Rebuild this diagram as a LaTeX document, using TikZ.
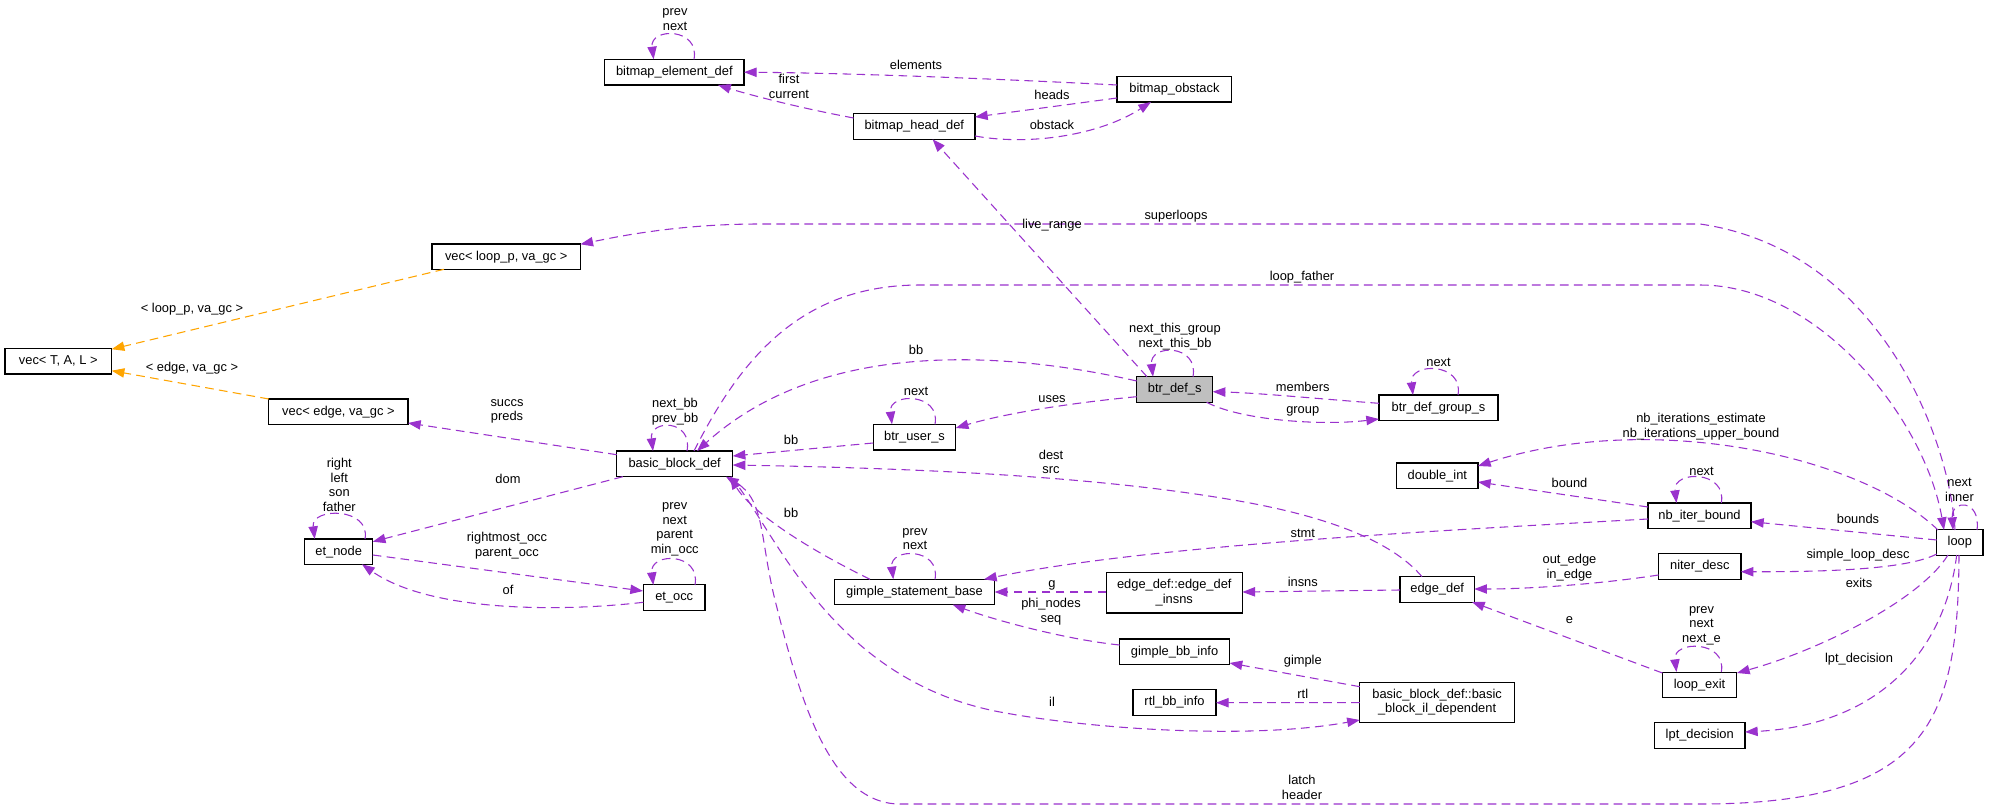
\documentclass[tikz,border=0pt]{standalone}
\usepackage{fontspec}
\setmainfont{Liberation Sans}
\usetikzlibrary{arrows.meta,calc}
\definecolor{dpurple}{HTML}{9A32CD}
\definecolor{dorange}{HTML}{FFA500}
\definecolor{dgrey}{HTML}{BFBFBF}
\newcommand\dxf{\fontsize{9.65pt}{11pt}\selectfont}
\begin{document}
\begin{tikzpicture}[x=0.75pt,y=-0.75pt,
  bx/.style={draw=black, line width=0.9pt, fill=white, font=\dxf, inner sep=0pt, minimum height=19.2pt, align=center},
  lbl/.style={font=\dxf, inner sep=0pt, align=center},
  rel/.style={draw=dpurple, line width=0.8pt, dash pattern=on 6.5pt off 4pt, -{Triangle[length=9.5pt,width=7pt]}},
  inh/.style={draw=dorange, line width=0.8pt, dash pattern=on 6.5pt off 4pt, -{Triangle[length=9.5pt,width=7pt]}}]
\fill[white] (0,0) rectangle (1989,809);
\useasboundingbox (0,0) rectangle (1989,809);

% nodes
\node[bx, minimum width=80pt] (vTAL) at (58.3,361.2) {vec< T, A, L >};
\node[bx, minimum width=111.3pt] (vLoop) at (506.2,256.8) {vec< loop\_p, va\_gc >};
\node[bx, minimum width=104.4pt] (vEdge) at (338.4,411.7) {vec< edge, va\_gc >};
\node[bx, minimum width=104.6pt] (bed) at (674.3,72.2) {bitmap\_element\_def};
\node[bx, minimum width=91pt] (bhd) at (914.3,126.5) {bitmap\_head\_def};
\node[bx, minimum width=86pt] (bob) at (1174.4,89.3) {bitmap\_obstack};
\node[bx, minimum width=57pt, fill=dgrey] (bds) at (1174.7,389.5) {btr\_def\_s};
\node[bx, minimum width=89.3pt] (bdg) at (1438.5,407.8) {btr\_def\_group\_s};
\node[bx, minimum width=62pt] (bus) at (914.5,437.2) {btr\_user\_s};
\node[bx, minimum width=87pt] (bbd) at (674.7,463.8) {basic\_block\_def};
\node[bx, minimum width=51.2pt] (etn) at (338.7,551.7) {et\_node};
\node[bx, minimum width=46.3pt] (eto) at (674.2,597.5) {et\_occ};
\node[bx, minimum width=120.2pt] (gsb) at (914.5,592) {gimple\_statement\_base};
\node[bx, minimum width=102.1pt, minimum height=30.2pt] (edi) at (1174.3,592.8) {edge\_def::edge\_def\\\_insns};
\node[bx, minimum width=82.5pt] (gbi) at (1174.6,651.8) {gimple\_bb\_info};
\node[bx, minimum width=62.3pt] (rbi) at (1174.5,702.5) {rtl\_bb\_info};
\node[bx, minimum width=61pt] (dbl) at (1437.3,475.8) {double\_int};
\node[bx, minimum width=77.3pt] (nib) at (1699.5,515.8) {nb\_iter\_bound};
\node[bx, minimum width=34.7pt] (loop) at (1959.8,542.5) {loop};
\node[bx, minimum width=61.8pt] (nid) at (1699.8,566.5) {niter\_desc};
\node[bx, minimum width=55.7pt] (edf) at (1437.2,589.3) {edge\_def};
\node[bx, minimum width=55.6pt] (lex) at (1699.5,685) {loop\_exit};
\node[bx, minimum width=116pt, minimum height=30pt] (bil) at (1437.1,702.3) {basic\_block\_def::basic\\\_block\_il\_dependent};
\node[bx, minimum width=68pt] (lpt) at (1699.7,735.5) {lpt\_decision};

% self loops
\draw[rel] ($(bed)+(19.7,-12.9)$) .. controls +(6,-32) and +(-4,-32) .. ($(bed)+(-20.7,-12.9)$);
\draw[rel] ($(bds)+(18.3,-12.8)$) .. controls +(6,-33) and +(-4,-33) .. ($(bds)+(-21.7,-12.8)$);
\draw[rel] ($(bdg)+(19.5,-12.8)$) .. controls +(6,-33) and +(-4,-33) .. ($(bdg)+(-25.5,-12.8)$);
\draw[rel] ($(bus)+(20.5,-12.9)$) .. controls +(6,-32) and +(-4,-32) .. ($(bus)+(-22.5,-12.9)$);
\draw[rel] ($(bbd)+(12.3,-12.8)$) .. controls +(6,-32) and +(-4,-32) .. ($(bbd)+(-21.7,-12.8)$);
\draw[rel] ($(etn)+(26.3,-12.7)$) .. controls +(6,-32) and +(-4,-32) .. ($(etn)+(-24,-12.7)$);
\draw[rel] ($(eto)+(20.8,-12.5)$) .. controls +(6,-33) and +(-4,-33) .. ($(eto)+(-20.9,-12.5)$);
\draw[rel] ($(gsb)+(20.5,-12.7)$) .. controls +(6,-32) and +(-4,-32) .. ($(gsb)+(-21.2,-12.7)$);
\draw[rel] ($(nib)+(21.8,-12.8)$) .. controls +(6,-33) and +(-4,-33) .. ($(nib)+(-23,-12.8)$);
\draw[rel] ($(lex)+(21.8,-13)$) .. controls +(6,-32) and +(-4,-32) .. ($(lex)+(-23,-13)$);
\draw[rel] ($(loop)+(17.2,-12.5)$) .. controls +(4,-31) and +(-2,-31) .. ($(loop)+(-6.8,-12.5)$);

% edges
\draw[rel] ($(bob)+(-57.4,-4.3)$) .. controls (1000,79) and (850,73) .. ($(bed)+(69.7,0)$);
\draw[rel] ($(bhd)+(-60.7,-8.5)$) .. controls (800,108) and (750,95) .. ($(bed)+(43.7,12.8)$);
\draw[rel] ($(bob)+(-57.4,8.7)$) -- ($(bhd)+(60.7,-9.5)$);
\draw[rel] ($(bhd)+(60.7,9.5)$) .. controls (1030,146) and (1100,135) .. ($(bob)+(-23.4,12.7)$);
\draw[rel] ($(bds)+(-27.7,-12.8)$) -- ($(bhd)+(18.3,12.8)$);
\draw[rel] ($(loop)+(-4.8,-12.5)$) .. controls (1950,440) and (1880,250) .. (1700,224) -- (760,224) .. controls (680,224) and (620,236) .. ($(vLoop)+(74.2,-12.5)$);
\draw[rel] ($(bbd)+(19.3,-12.8)$) .. controls (740,360) and (800,285) .. (920,285) -- (1700,285) .. controls (1820,285) and (1925,420) .. ($(loop)+(-15.8,-12.5)$);
\draw[rel] ($(loop)+(-21.8,-12.5)$) .. controls (1860,455) and (1650,410) .. ($(dbl)+(40.7,-9.8)$);
\draw[rel] ($(bds)+(-38,-8.5)$) .. controls (1000,350) and (820,340) .. ($(bbd)+(22.3,-12.8)$);
\draw[rel] ($(bdg)+(-59.5,-4.5)$) .. controls (1320,399) and (1260,393) .. ($(bds)+(38,2.2)$);
\draw[rel] ($(bds)+(32,12.8)$) .. controls (1240,420) and (1320,426) .. ($(bdg)+(-59.5,11.2)$);
\draw[rel] ($(bds)+(-38,7.2)$) .. controls (1080,402) and (1010,412) .. ($(bus)+(41.3,-9.2)$);
\draw[rel] ($(bus)+(-41.3,5.8)$) -- ($(bbd)+(58,-7.8)$);
\draw[rel] ($(edf)+(-15.2,-12.6)$) .. controls (1395,545) and (1340,520) .. (1250,503) .. controls (1100,475) and (900,468) .. ($(bbd)+(58,1.2)$);
\draw[rel] ($(bbd)+(-58,-9.1)$) -- ($(vEdge)+(69.6,11.3)$);
\draw[rel] ($(bbd)+(-51.9,12.9)$) -- ($(etn)+(34.1,-10)$);
\draw[rel] ($(etn)+(34.1,3.3)$) -- ($(eto)+(-31.2,-6.5)$);
\draw[rel] ($(eto)+(-30.9,4.8)$) .. controls (560,612) and (430,612) .. ($(etn)+(23.3,12.6)$);
\draw[inh] ($(vLoop)+(-62.2,12.5)$) -- ($(vTAL)+(53.4,-12)$);
\draw[inh] ($(vEdge)+(-69.6,-12.7)$) -- ($(vTAL)+(53.4,9.5)$);
\draw[rel] ($(gsb)+(-44.5,-12.7)$) .. controls (800,545) and (750,510) .. ($(bbd)+(55.3,12.9)$);
\draw[rel] ($(loop)+(-0.8,12.5)$) .. controls (1958,720) and (1930,804) .. (1700,804) -- (900,804) .. controls (830,804) and (800,700) .. (775,600) .. controls (760,540) and (765,500) .. ($(bbd)+(51.3,12.9)$);
\draw[rel] ($(bbd)+(56.3,12.9)$) .. controls (775,530) and (830,680) .. (1000,712) .. controls (1090,729) and (1250,740) .. ($(bil)+(-77.3,17.7)$);
\draw[rel] ($(nib)+(-51.5,3.2)$) .. controls (1450,530) and (1150,545) .. ($(gsb)+(69.5,-12.7)$);
\draw[rel] ($(edi)+(-68,-0.8)$) -- ($(gsb)+(80.1,0)$);
\draw[rel] ($(gbi)+(-55,-6.8)$) .. controls (1070,640) and (1000,622) .. ($(gsb)+(38.2,12.7)$);
\draw[rel] ($(edf)+(-37.2,0.7)$) -- ($(edi)+(68.1,-0.8)$);
\draw[rel] ($(bil)+(-77.3,-15.6)$) -- ($(gbi)+(55,11.2)$);
\draw[rel] ($(bil)+(-77.3,0.4)$) -- ($(rbi)+(41.5,0.2)$);
\draw[rel] ($(nib)+(-51.5,-8.8)$) -- ($(dbl)+(40.7,6.2)$);
\draw[rel] ($(loop)+(-23.1,-2.5)$) -- ($(nib)+(51.5,5.9)$);
\draw[rel] ($(loop)+(-23.1,11.5)$) .. controls (1910,568) and (1840,572) .. ($(nid)+(41,5.2)$);
\draw[rel] ($(nid)+(-41.2,8.5)$) .. controls (1600,584) and (1530,589) .. ($(edf)+(37.1,-0.3)$);
\draw[rel] ($(lex)+(-37.1,-12)$) -- ($(edf)+(34.8,12.7)$);
\draw[rel] ($(loop)+(-11.8,12.5)$) .. controls (1920,600) and (1820,650) .. ($(lex)+(37.5,-12)$);
\draw[rel] ($(loop)+(-3.1,12.5)$) .. controls (1945,650) and (1880,725) .. ($(lpt)+(45.3,-3.5)$);

% labels
\node[lbl] (l1) at (916,65) {elements};
\node[lbl] (l2) at (789,86.5) {first\\current};
\node[lbl] (l3) at (1052,95) {heads};
\node[lbl] (l4) at (1052,125) {obstack};
\node[lbl] (l5) at (1052,225) {live\_range};
\node[lbl] (l6) at (1176,216) {superloops};
\node[lbl] (l7) at (1302,277) {loop\_father};
\node[lbl] (l8) at (916,350) {bb};
\node[lbl] (l9) at (1302.7,386.7) {members};
\node[lbl] (l10) at (1302.7,411.7) {group};
\node[lbl] (l11) at (1052,399) {uses};
\node[lbl] (l12) at (791,440) {bb};
\node[lbl] (l13) at (1051,462) {dest\\src};
\node[lbl] (l14) at (507,411.5) {succs\\preds};
\node[lbl] (l15) at (508,479) {dom};
\node[lbl] (l16) at (507,546) {rightmost\_occ\\parent\_occ};
\node[lbl] (l17) at (508,590) {of};
\node[lbl] (l18) at (192,309) {< loop\_p, va\_gc >};
\node[lbl] (l19) at (192,368) {< edge, va\_gc >};
\node[lbl] (l20) at (791,513) {bb};
\node[lbl] (l21) at (1051,611.5) {phi\_nodes\\seq};
\node[lbl] (l22) at (1052,585) {g};
\node[lbl] (l23) at (1052,702) {il};
\node[lbl] (l24) at (1302.8,533) {stmt};
\node[lbl] (l25) at (1302.8,582) {insns};
\node[lbl] (l26) at (1302.8,661) {gimple};
\node[lbl] (l27) at (1302.8,694) {rtl};
\node[lbl] (l28) at (1302,787.5) {latch\\header};
\node[lbl] (l29) at (1701,427) {nb\_iterations\_estimate\\nb\_iterations\_upper\_bound};
\node[lbl] (l30) at (1569.5,483) {bound};
\node[lbl] (l31) at (1858,518.5) {bounds};
\node[lbl] (l32) at (1858,555) {simple\_loop\_desc};
\node[lbl] (l33) at (1569.5,567.5) {out\_edge\\in\_edge};
\node[lbl] (l34) at (1569.5,620) {e};
\node[lbl] (l35) at (1859,583) {exits};
\node[lbl] (l36) at (1859,659) {lpt\_decision};
\node[lbl] (s1) at (675,19.3) {prev\\next};
\node[lbl] (s2) at (1175,336.3) {next\_this\_group\\next\_this\_bb};
\node[lbl] (s3) at (1438.5,362.5) {next};
\node[lbl] (s4) at (916,391.7) {next};
\node[lbl] (s5) at (675,411.5) {next\_bb\\prev\_bb};
\node[lbl] (s6) at (339.3,485) {right\\left\\son\\father};
\node[lbl] (s7) at (674.7,529.3) {prev\\next\\parent\\min\_occ};
\node[lbl] (s8) at (915,539.2) {prev\\next};
\node[lbl] (s9) at (1701.5,471) {next};
\node[lbl] (s10) at (1701.5,625.5) {prev\\next\\next\_e};
\node[lbl] (s11) at (1959.5,490) {next\\inner};
\end{tikzpicture}
\end{document}
